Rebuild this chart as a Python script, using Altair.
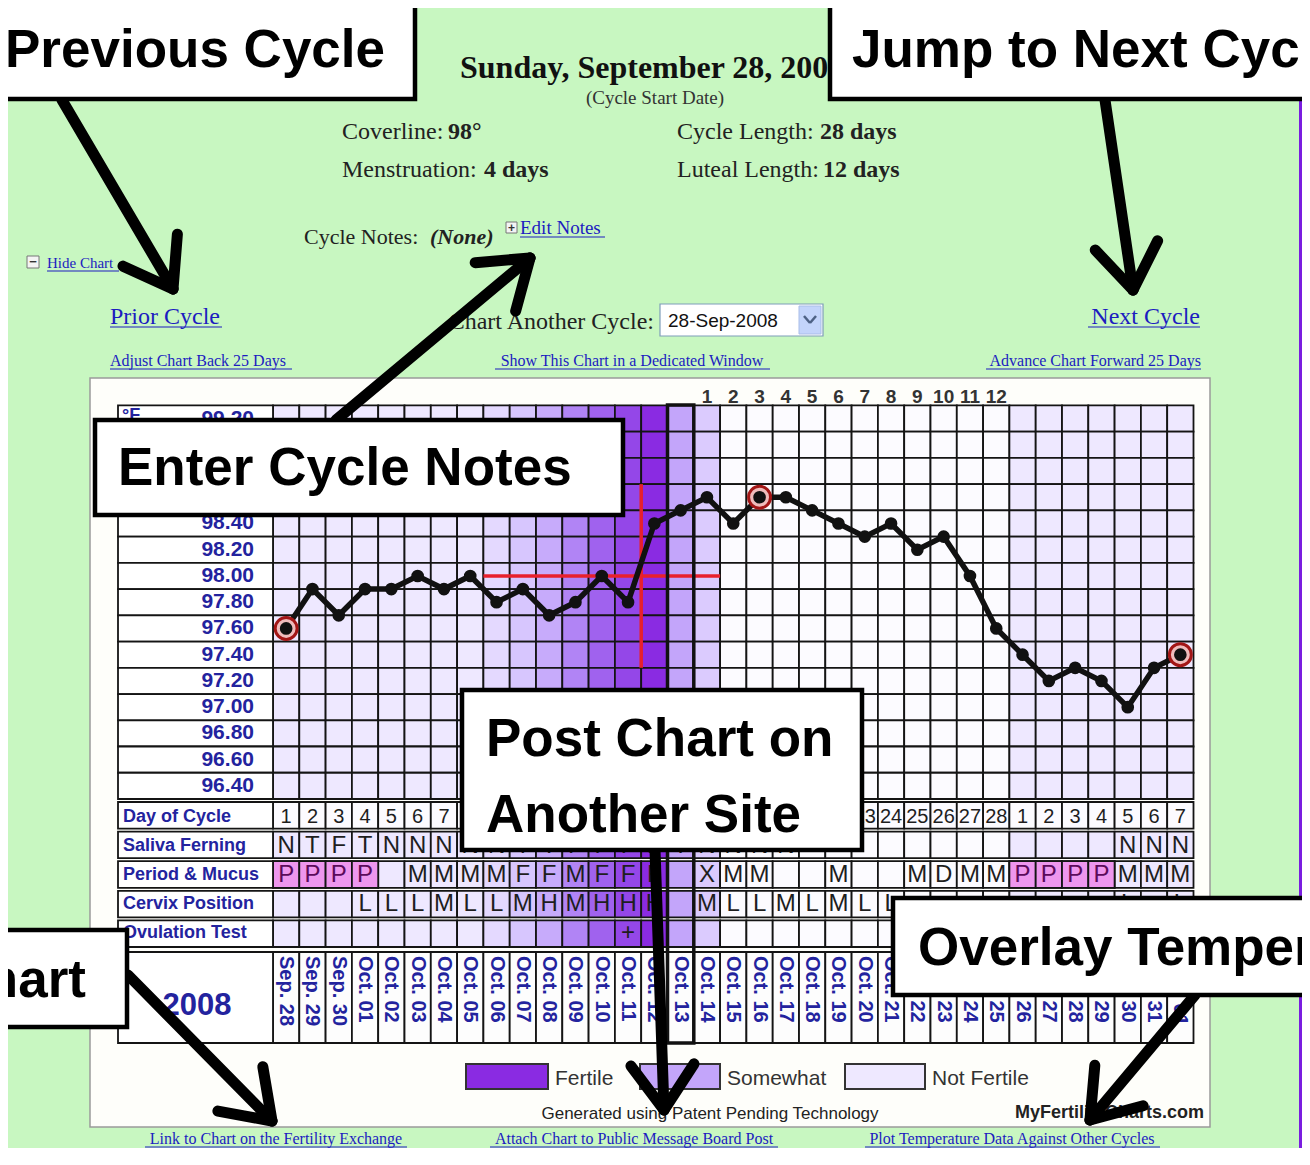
import math
import pandas as pd
import altair as alt

# ---------------------------------------------------------------- data
DATES = ["Sep. 28", "Sep. 29", "Sep. 30",
         "Oct. 01", "Oct. 02", "Oct. 03", "Oct. 04", "Oct. 05", "Oct. 06", "Oct. 07",
         "Oct. 08", "Oct. 09", "Oct. 10", "Oct. 11", "Oct. 12", "Oct. 13", "Oct. 14",
         "Oct. 15", "Oct. 16", "Oct. 17", "Oct. 18", "Oct. 19", "Oct. 20", "Oct. 21",
         "Oct. 22", "Oct. 23", "Oct. 24", "Oct. 25", "Oct. 26", "Oct. 27", "Oct. 28",
         "Oct. 29", "Oct. 30", "Oct. 31", "Nov. 01"]
DAY_OF_CYCLE = [1, 2, 3, 4, 5, 6, 7, 8, 9, 10, 11, 12, 13, 14, 15, 16, 17, 18, 19, 20,
                21, 22, 23, 24, 25, 26, 27, 28, 1, 2, 3, 4, 5, 6, 7]
TEMPS = [97.6, 97.9, 97.7, 97.9, 97.9, 98.0, 97.9, 98.0, 97.8, 97.9, 97.7, 97.8,
         98.0, 97.8, 98.4, 98.5, 98.6, 98.4, 98.6, 98.6, 98.5, 98.4, 98.3, 98.4,
         98.2, 98.3, 98.0, 97.6, 97.4, 97.2, 97.3, 97.2, 97.0, 97.3, 97.4]
MARKED_DAYS = [0, 18, 34]
FERTILITY = [0.10, 0.10, 0.10, 0.10, 0.10, 0.10, 0.10, 0.10, 0.18, 0.28, 0.42, 0.62,
             0.78, 0.90, 1.00, 0.45, 0.25, 0.0, 0.0, 0.0, 0.0, 0.0, 0.0, 0.0,
             0.0, 0.0, 0.0, 0.0, 0.10, 0.10, 0.10, 0.10, 0.10, 0.10, 0.10]
SALIVA = ["N", "T", "F", "T", "N", "N", "N", "N", "N", "T", "T", "F", "F", "F", "F", "T",
          "N", "N", "N", "N", "", "", "", "", "", "", "", "", "", "", "", "", "N", "N", "N"]
PERIOD_MUCUS = ["P", "P", "P", "P", "", "M", "M", "M", "M", "F", "F", "M", "F", "F", "F", "",
                "X", "M", "M", "", "", "M", "", "", "M", "D", "M", "M", "P", "P", "P", "P",
                "M", "M", "M"]
CERVIX = ["", "", "", "L", "L", "L", "M", "L", "L", "M", "H", "M", "H", "H", "H", "",
          "M", "L", "L", "M", "L", "M", "L", "L", "", "", "", "", "", "", "", "",
          "L", "", "L"]
OVULATION = ["", "", "", "", "", "", "", "", "", "", "", "", "", "+", "", "", "", "",
             "", "", "", "", "", "", "", "", "", "", "", "", "", "", "", "", ""]
LUTEAL_DAYS = [1, 2, 3, 4, 5, 6, 7, 8, 9, 10, 11, 12]
LUTEAL_START = 16
TEMP_ROWS = [99.2, 99.0, 98.8, 98.6, 98.4, 98.2, 98.0, 97.8, 97.6, 97.4, 97.2, 97.0,
             96.8, 96.6, 96.4]
COVERLINE = 98.0
COVER_FROM, COVER_TO = 7.5, 16.5
SHIFT_DAY = 13.5
SHIFT_SPAN = [97.3, 98.7]
SELECTED_DAY = 15
ROW_NAMES = ["Day of Cycle", "Saliva Ferning", "Period & Mucus", "Cervix Position",
             "Ovulation Test"]
LEGEND_LABELS = ["Fertile", "Somewhat", "Not Fertile"]
LEGEND_LEVELS = [1.0, 0.45, 0.10]
YEAR = "2008"

# ---------------------------------------------------------------- styles
SANS = "Liberation Sans"
SERIF = "Liberation Serif"
BLUE = "#23239e"
LINK = "#1c1cc0"
GRIDC = "#141414"
N = len(DATES)
DAYS = list(range(N))
ONE = pd.DataFrame({"k": [0]})


def S(v):
    return v - 8


XS = alt.Scale(domain=[-0.5, N - 0.5], range=[265, 1185.5], nice=False, zero=False)
YT = alt.Scale(domain=[96.3, 99.3], range=[791, 397.4], nice=False, zero=False)
YR = alt.Scale(domain=ROW_NAMES, range=[794, 939], paddingInner=0.1, paddingOuter=0)
CS = alt.Scale(domain=[0, 1], range=["#fcfbff", "#8a2be2"])


def text(s, x, y, size, font=SANS, weight="normal", color="#111111", align="left",
         style="normal"):
    return alt.Chart(ONE).mark_text(
        text=s, fontSize=size, font=font, fontWeight=weight, color=color, align=align,
        baseline="alphabetic", fontStyle=style
    ).encode(x=alt.value(S(x)), y=alt.value(S(y)))


def rect(x1, y1, x2, y2, fill, stroke="#000000", sw=0, **kw):
    return alt.Chart(ONE).mark_rect(fill=fill, stroke=stroke, strokeWidth=sw, **kw).encode(
        x=alt.value(S(x1)), x2=alt.value(S(x2)), y=alt.value(S(y1)), y2=alt.value(S(y2)))


def seg(x1, y1, x2, y2, color="#000000", w=2, cap="butt"):
    return alt.Chart(ONE).mark_rule(color=color, strokeWidth=w, strokeCap=cap).encode(
        x=alt.value(S(x1)), y=alt.value(S(y1)), x2=alt.value(S(x2)), y2=alt.value(S(y2)))


def arrow(x1, y1, x2, y2, L=55, ang=35, w=11):
    dx, dy = x1 - x2, y1 - y2
    n = math.hypot(dx, dy)
    ux, uy = dx / n, dy / n
    out = [seg(x1, y1, x2, y2, w=w, cap="round")]
    for a in (ang, -ang):
        r = math.radians(a)
        wx = ux * math.cos(r) - uy * math.sin(r)
        wy = ux * math.sin(r) + uy * math.cos(r)
        out.append(seg(x2, y2, x2 + L * wx, y2 + L * wy, w=w, cap="round"))
    return out


def link(s, x, y, size, align="left", ux=None):
    layers = [text(s, x, y, size, font=SERIF, color=LINK, align=align)]
    if ux:
        layers.append(seg(ux[0], y + 3, ux[1], y + 3, color=LINK, w=1.2))
    return layers


layers = []

# page chrome
layers.append(rect(1299, 95, 1320, 1170, "#7a1de0"))
layers.append(rect(90, 378, 1210, 1127, "#fefefa", stroke="#9a9a9a", sw=1.5))

# temperature grid
grid = pd.DataFrame([{"x0": i - 0.5, "x1": i + 0.5, "t0": t - 0.1, "t1": t + 0.1,
                      "fert": FERTILITY[i]} for i in DAYS for t in TEMP_ROWS])
layers.append(alt.Chart(grid).mark_rect(stroke=GRIDC, strokeWidth=1.8).encode(
    x=alt.X("x0:Q", scale=XS, axis=None), x2="x1:Q",
    y=alt.Y("t0:Q", scale=YT, axis=None), y2="t1:Q",
    color=alt.Color("fert:Q", scale=CS, legend=None)))

lab = pd.DataFrame({"t": TEMP_ROWS, "label": [f"{t:.2f}" for t in TEMP_ROWS]})
lab["t0"] = lab["t"] - 0.1
lab["t1"] = lab["t"] + 0.1
layers.append(alt.Chart(lab).mark_rect(fill="#ffffff", stroke=GRIDC, strokeWidth=1.8).encode(
    x=alt.value(S(118)), x2=alt.value(S(273)),
    y=alt.Y("t0:Q", scale=YT, axis=None), y2="t1:Q"))
layers.append(alt.Chart(lab).mark_text(align="right", baseline="middle", font=SANS,
                                       fontWeight="bold", fontSize=21, color=BLUE).encode(
    x=alt.value(S(254)), y=alt.Y("t:Q", scale=YT, axis=None), text="label:N"))
layers.append(text("°F", 122, 421, 18, weight="bold", color=BLUE))

# lower table
ROW_VALUES = {"Day of Cycle": [str(d) for d in DAY_OF_CYCLE], "Saliva Ferning": SALIVA,
              "Period & Mucus": PERIOD_MUCUS, "Cervix Position": CERVIX,
              "Ovulation Test": OVULATION}
lower = pd.DataFrame([{"row": r, "day": i, "x0": i - 0.5, "x1": i + 0.5, "value": vals[i],
                       "shade": 0.0 if r == "Day of Cycle" else FERTILITY[i]}
                      for r, vals in ROW_VALUES.items() for i in DAYS])
layers.append(alt.Chart(lower).mark_rect(stroke=GRIDC, strokeWidth=1.8).encode(
    x=alt.X("x0:Q", scale=XS, axis=None), x2="x1:Q",
    y=alt.Y("row:N", scale=YR, axis=None),
    color=alt.Color("shade:Q", scale=CS, legend=None)))
period = lower[(lower["row"] == "Period & Mucus") & (lower["value"] == "P")]
layers.append(alt.Chart(period).mark_rect(fill="#ee96ee", stroke=GRIDC, strokeWidth=1.8).encode(
    x=alt.X("x0:Q", scale=XS, axis=None), x2="x1:Q",
    y=alt.Y("row:N", scale=YR, axis=None)))
rows_df = pd.DataFrame({"row": ROW_NAMES})
layers.append(alt.Chart(rows_df).mark_rect(fill="#ffffff", stroke=GRIDC, strokeWidth=1.8).encode(
    x=alt.value(S(118)), x2=alt.value(S(273)), y=alt.Y("row:N", scale=YR, axis=None)))
layers.append(alt.Chart(rows_df).mark_text(align="left", baseline="middle", font=SANS,
                                           fontWeight="bold", fontSize=18, color=BLUE).encode(
    x=alt.value(S(123)), y=alt.Y("row:N", scale=YR, axis=None), text="row:N"))
nums = lower[(lower["row"] == "Day of Cycle")]
layers.append(alt.Chart(nums).mark_text(baseline="middle", font=SANS, fontSize=20,
                                        color="#1e1e1e").encode(
    x=alt.X("day:Q", scale=XS, axis=None), y=alt.Y("row:N", scale=YR, axis=None),
    text="value:N"))
letters = lower[(lower["row"] != "Day of Cycle") & (lower["value"] != "")]
layers.append(alt.Chart(letters).mark_text(baseline="middle", font=SANS, fontSize=24).encode(
    x=alt.X("day:Q", scale=XS, axis=None), y=alt.Y("row:N", scale=YR, axis=None),
    text="value:N",
    color=alt.condition(alt.datum.value == "P", alt.value("#5b0a5b"), alt.value("#1e1e1e"))))

# date row
dates_df = pd.DataFrame({"day": DAYS, "x0": [i - 0.5 for i in DAYS],
                         "x1": [i + 0.5 for i in DAYS], "date": DATES})
layers.append(alt.Chart(dates_df).mark_rect(fill="#fdfdfd", stroke=GRIDC, strokeWidth=1.8).encode(
    x=alt.X("x0:Q", scale=XS, axis=None), x2="x1:Q",
    y=alt.value(S(952)), y2=alt.value(S(1043))))
layers.append(rect(118, 952, 273, 1043, "#ffffff", stroke=GRIDC, sw=1.8))
layers.append(alt.Chart(dates_df).mark_text(angle=90, align="left", baseline="middle", font=SANS,
                                            fontWeight="bold", fontSize=20, color=BLUE).encode(
    x=alt.X("day:Q", scale=XS, axis=None), y=alt.value(S(956)), text="date:N"))
layers.append(text(YEAR, 197, 1015, 31, weight="bold", color=BLUE, align="center"))

# coverline and shift line
layers.append(alt.Chart(pd.DataFrame({"x0": [COVER_FROM], "x1": [COVER_TO], "t": [COVERLINE]}))
              .mark_rule(color="#e8202c", strokeWidth=3.5).encode(
    x=alt.X("x0:Q", scale=XS, axis=None), x2="x1:Q", y=alt.Y("t:Q", scale=YT, axis=None)))
layers.append(alt.Chart(pd.DataFrame({"x": [SHIFT_DAY], "t0": [SHIFT_SPAN[0]], "t1": [SHIFT_SPAN[1]]}))
              .mark_rule(color="#e8202c", strokeWidth=3.5).encode(
    x=alt.X("x:Q", scale=XS, axis=None), y=alt.Y("t0:Q", scale=YT, axis=None), y2="t1:Q"))

# selected-day box
layers.append(alt.Chart(pd.DataFrame({"x0": [SELECTED_DAY - 0.5], "x1": [SELECTED_DAY + 0.5]}))
              .mark_rect(fillOpacity=0, stroke="#111111", strokeWidth=3.5).encode(
    x=alt.X("x0:Q", scale=XS, axis=None), x2="x1:Q",
    y=alt.value(S(405)), y2=alt.value(S(1043))))

# temperature curve
temp_df = pd.DataFrame({"day": DAYS, "temp": TEMPS})
layers.append(alt.Chart(temp_df).mark_line(color="#111111", strokeWidth=5.5).encode(
    x=alt.X("day:Q", scale=XS, axis=None), y=alt.Y("temp:Q", scale=YT, axis=None)))
layers.append(alt.Chart(temp_df[temp_df["day"].isin(MARKED_DAYS)]).mark_circle(
    size=480, fill="#efbcbc", stroke="#a31616", strokeWidth=3, opacity=1).encode(
    x=alt.X("day:Q", scale=XS, axis=None), y=alt.Y("temp:Q", scale=YT, axis=None)))
layers.append(alt.Chart(temp_df).mark_circle(size=160, color="#111111", opacity=1).encode(
    x=alt.X("day:Q", scale=XS, axis=None), y=alt.Y("temp:Q", scale=YT, axis=None)))

# luteal day numbers
lut = pd.DataFrame({"day": [LUTEAL_START + k for k in range(len(LUTEAL_DAYS))],
                    "n": [str(v) for v in LUTEAL_DAYS]})
layers.append(alt.Chart(lut).mark_text(baseline="alphabetic", font=SANS, fontWeight="bold",
                                       fontSize=19, color="#333333").encode(
    x=alt.X("day:Q", scale=XS, axis=None), y=alt.value(S(403)), text="n:N"))

# legend
for (lbl, lvl), (bx0, bx1) in zip(zip(LEGEND_LABELS, LEGEND_LEVELS),
                                  [(466, 548), (640, 720), (845, 925)]):
    layers.append(alt.Chart(pd.DataFrame({"fert": [lvl]})).mark_rect(
        stroke="#333333", strokeWidth=2).encode(
        x=alt.value(S(bx0)), x2=alt.value(S(bx1)), y=alt.value(S(1064)), y2=alt.value(S(1089)),
        color=alt.Color("fert:Q", scale=CS, legend=None)))
    layers.append(text(lbl, bx1 + 7, 1085, 21, color="#333333"))
layers.append(text("Generated using Patent Pending Technology", 710, 1119, 17,
                   color="#222222", align="center"))
layers.append(text("MyFertilityCharts.com", 1204, 1118, 18, weight="bold",
                   color="#222222", align="right"))

# header
layers.append(text("Sunday, September 28, 2008", 460, 78, 32, font=SERIF, weight="bold"))
layers.append(text("(Cycle Start Date)", 655, 104, 19, font=SERIF, color="#333333",
                   align="center"))
for lbl, val, x, xv, y in [("Coverline:", "98°", 342, 448, 139),
                           ("Menstruation:", "4 days", 342, 484, 177),
                           ("Cycle Length:", "28 days", 677, 820, 139),
                           ("Luteal Length:", "12 days", 677, 823, 177)]:
    layers.append(text(lbl, x, y, 24, font=SERIF, color="#222222"))
    layers.append(text(val, xv, y, 24, font=SERIF, weight="bold", color="#222222"))
layers.append(text("Cycle Notes:", 304, 244, 22, font=SERIF, color="#222222"))
layers.append(text("(None)", 430, 244, 22, font=SERIF, weight="bold", style="italic",
                   color="#222222"))
layers.append(rect(506, 222, 517, 233, "#f4f4f4", stroke="#777777", sw=1))
layers.append(text("+", 511.5, 232, 12, weight="bold", color="#333333", align="center"))
layers += link("Edit Notes", 520, 234, 19, ux=(520, 605))
layers.append(rect(27, 256, 39, 268, "#f4f4f4", stroke="#777777", sw=1))
layers.append(text("−", 33, 266, 13, weight="bold", color="#333333", align="center"))
layers += link("Hide Chart", 47, 268, 15, ux=(47, 119))
layers += link("Prior Cycle", 110, 324, 24, ux=(110, 222))
layers.append(text("Chart Another Cycle:", 654, 329, 24, font=SERIF, color="#222222",
                   align="right"))
layers.append(rect(660, 304, 823, 336, "#ffffff", stroke="#7f9db9", sw=1.2))
layers.append(text("28-Sep-2008", 668, 327, 19, color="#111111"))
layers.append(rect(799, 306, 821, 334, "#c3d4fb", stroke="#a9bde8", sw=1))
layers.append(seg(804, 316, 810, 323, color="#4d6185", w=2.5))
layers.append(seg(810, 323, 816, 316, color="#4d6185", w=2.5))
layers += link("Next Cycle", 1200, 324, 24, align="right", ux=(1088, 1200))
layers += link("Adjust Chart Back 25 Days", 110, 366, 16, ux=(110, 292))
layers += link("Show This Chart in a Dedicated Window", 632, 366, 16, align="center",
               ux=(495, 770))
layers += link("Advance Chart Forward 25 Days", 1201, 366, 16, align="right", ux=(986, 1201))
layers += link("Link to Chart on the Fertility Exchange", 276, 1144, 16, align="center",
               ux=(145, 407))
layers += link("Attach Chart to Public Message Board Post", 634, 1144, 16, align="center",
               ux=(490, 778))
layers += link("Plot Temperature Data Against Other Cycles", 1012, 1144, 16, align="center",
               ux=(865, 1160))

# arrows
for a in [(62, 100, 173, 289), (336, 420, 530, 258), (1105, 100, 1133, 290),
          (655, 850, 664, 1110), (128, 975, 272, 1121), (1195, 995, 1090, 1120)]:
    layers += arrow(*a)

# callout boxes
CALL = dict(weight="bold", color="#000000")
for (x1, y1, x2, y2) in [(-20, 2, 415, 99), (830, 2, 1330, 99), (95, 420, 623, 515),
                         (462, 690, 862, 850), (-20, 930, 127, 1027), (893, 898, 1330, 995)]:
    layers.append(rect(x1, y1, x2, y2, "#ffffff", stroke="#000000", sw=4.5))
layers.append(text("Previous Cycle", 5, 67, 53, **CALL))
layers.append(text("Jump to Next Cycle", 852, 67, 53, **CALL))
layers.append(text("Enter Cycle Notes", 118, 485, 53, **CALL))
layers.append(text("Post Chart on", 486, 756, 53, **CALL))
layers.append(text("Another Site", 486, 832, 53, **CALL))
layers.append(text("Chart", 86, 997, 53, align="right", **CALL))
layers.append(text("Overlay Temperature", 918, 965, 53, **CALL))

chart = alt.layer(*layers).resolve_scale(
    x="independent", y="independent"
).properties(
    width=1294, height=1140, padding=0, autosize="none", background="#c8f7c1"
).configure_view(strokeWidth=0)

chart.save("out.html", embed_options={"renderer": "svg", "actions": False})
